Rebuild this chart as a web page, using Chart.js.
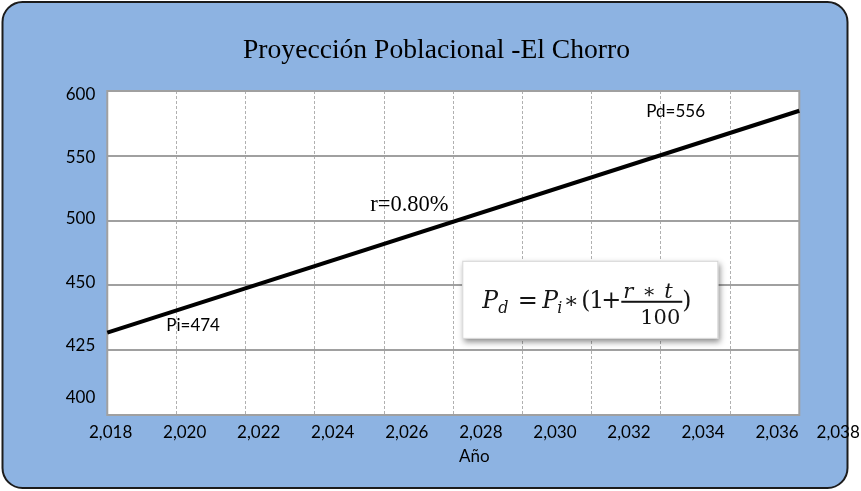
<!DOCTYPE html>
<html>
<head>
<meta charset="utf-8">
<title>Proyección Poblacional -El Chorro</title>
<script src="https://cdn.jsdelivr.net/npm/chart.js@4/dist/chart.umd.min.js"></script>
<style>
  html, body { margin: 0; padding: 0; background: #ffffff; }
  #wrap { width: 861px; height: 491px; }
</style>
</head>
<body>
<div id="wrap"><canvas id="c" width="861" height="491"></canvas></div>
<script>
// ---- data ----
const years = [2018, 2038];
const population = [474, 556];
const xTickYears = [2018, 2020, 2022, 2024, 2026, 2028, 2030, 2032, 2034, 2036, 2038];
const yTickLabels = ['400', '425', '450', '500', '550', '600'];
const growthRate = 0.80;
const chartTitle = 'Proyección Poblacional -El Chorro';
const xAxisTitle = 'Año';

const SANS = 'Lato';
const SERIF = '"Liberation Serif", "Times New Roman", serif';
const MATH = '"DejaVu Serif", serif';

// vertical range of the plot and the small shifts (px, up) of each y label off its grid line
const Y_MIN = 443.6, Y_MAX = 563.3, PLOT_H = 324;
const yLabelShift = [17, 5, 3, 2, -2, -4];

function withThousands(n) {
  return String(n).replace(/\B(?=(\d{3})+(?!\d))/g, ',');
}
function gridValue(i) {
  return Y_MIN + i * (Y_MAX - Y_MIN) / (yTickLabels.length - 1);
}

// rounded blue panel, white plot area and the heading
const panel = {
  id: 'panel',
  beforeDraw(chart) {
    const { ctx, chartArea: a } = chart;
    ctx.save();
    ctx.fillStyle = '#ffffff';
    ctx.fillRect(0, 0, chart.width, chart.height);
    ctx.beginPath();
    ctx.roundRect(2.5, 2, 845, 486, 20);
    ctx.fillStyle = '#8DB3E2';
    ctx.fill();
    ctx.lineWidth = 2;
    ctx.strokeStyle = '#1c1c1c';
    ctx.stroke();
    ctx.fillStyle = '#ffffff';
    ctx.fillRect(a.left, a.top, a.right - a.left, a.bottom - a.top);
    ctx.fillStyle = '#000';
    ctx.font = `27.6px ${SERIF}`;
    ctx.textAlign = 'center';
    ctx.textBaseline = 'alphabetic';
    ctx.fillText(chartTitle, chart.width / 2 + 6, a.top - 33);
    ctx.restore();
  }
};

// grey frame round the plot area
const frame = {
  id: 'frame',
  beforeDatasetsDraw(chart) {
    const { ctx, chartArea: a } = chart;
    ctx.save();
    ctx.strokeStyle = '#a0a0a0';
    ctx.lineWidth = 2;
    ctx.strokeRect(a.left, a.top, a.right - a.left, a.bottom - a.top);
    ctx.restore();
  }
};

// text notes, formula box and x axis title
const notes = {
  id: 'notes',
  afterDatasetsDraw(chart) {
    const { ctx, chartArea: a, scales } = chart;
    const x = scales.x, y = scales.y, xl = scales.xl;
    const p0 = { x: x.getPixelForValue(years[0]), y: y.getPixelForValue(population[0]) };
    const p1 = { x: x.getPixelForValue(years[1]), y: y.getPixelForValue(population[1]) };
    const mid = { x: (p0.x + p1.x) / 2, y: (p0.y + p1.y) / 2 };

    ctx.save();
    ctx.fillStyle = '#000';
    ctx.textAlign = 'left';
    ctx.textBaseline = 'alphabetic';

    ctx.font = `17px ${SANS}`;
    ctx.fillText(`Pi=${population[0]}`, p0.x + 59, p0.y - 2);
    ctx.fillText(`Pd=${population[1]}`, p1.x - 153, p1.y + 6.5);

    ctx.font = `22.5px ${SERIF}`;
    ctx.fillText(`r=${growthRate.toFixed(2)}%`, mid.x - 83, mid.y - 11);

    // formula box
    const w = a.right - a.left, h = a.bottom - a.top;
    const bx = a.left + 0.513 * w, by = a.top + 0.524 * h;
    const bw = 0.370 * w, bh = 0.241 * h;
    ctx.save();
    ctx.shadowColor = 'rgba(0,0,0,0.45)';
    ctx.shadowBlur = 6;
    ctx.shadowOffsetX = 2;
    ctx.shadowOffsetY = 3;
    ctx.fillStyle = '#ffffff';
    ctx.fillRect(bx, by, bw, bh);
    ctx.restore();
    ctx.strokeStyle = '#d4d4d4';
    ctx.lineWidth = 1;
    ctx.strokeRect(bx + 0.5, by + 0.5, bw - 1, bh - 1);

    const it = (sz) => `italic ${sz}px ${MATH}`;
    const up = (sz) => `${sz}px ${MATH}`;
    const base = by + 47;
    ctx.fillStyle = '#141414';
    const glyph = (txt, font, dx, dy = 0, align = 'left') => {
      ctx.font = font;
      ctx.textAlign = align;
      ctx.fillText(txt, bx + dx, base + dy);
    };
    glyph('P', it(23.5), 20);
    glyph('d', it(16), 36, 5);
    glyph('=', up(24), 65.5, 0, 'center');
    glyph('P', it(23.5), 80);
    glyph('i', it(16), 95, 5);
    glyph('\u2217', up(22), 109, 0, 'center');
    glyph('(', up(23.5), 119);
    glyph('1', up(23.5), 127);
    glyph('+', up(24), 149, 0, 'center');
    // fraction r*t / 100
    ctx.fillRect(bx + 159, by + 40, 61, 2);
    glyph('r', it(21), 161, -10);
    glyph('\u2217', up(20), 187, -10, 'center');
    glyph('t', it(21), 202, -10);
    glyph('100', up(21), 198, 16, 'center');
    glyph(')', up(23.5), 220);

    // x axis title, centred under the year labels
    const first = xl.getPixelForTick(0);
    const last = xl.getPixelForTick(xl.ticks.length - 1);
    ctx.fillStyle = '#000';
    ctx.font = `17px ${SANS}`;
    ctx.textAlign = 'center';
    ctx.fillText(xAxisTitle, (first + last) / 2, a.bottom + 46.5);
    ctx.restore();
  }
};

Chart.defaults.font.family = SANS;

new Chart(document.getElementById('c'), {
  type: 'line',
  data: {
    datasets: [{
      label: 'Población',
      data: years.map((yr, i) => ({ x: yr, y: population[i] })),
      borderColor: '#000000',
      borderWidth: 4,
      pointRadius: 0,
      fill: false,
      tension: 0,
      xAxisID: 'x',
      yAxisID: 'y',
      clip: 4
    }]
  },
  options: {
    responsive: false,
    animation: false,
    devicePixelRatio: 1,
    layout: { padding: { top: 91, left: 53.7, right: 61.7, bottom: 41.6 } },
    plugins: {
      legend: { display: false },
      tooltip: { enabled: false },
      title: { display: false }
    },
    scales: {
      x: {
        type: 'linear',
        position: 'bottom',
        min: 2018,
        max: 2038,
        ticks: { display: false, stepSize: 2 },
        grid: { color: '#b0b0b0', lineWidth: 1, drawTicks: false },
        border: { display: false, dash: [3, 2] }
      },
      xl: {
        type: 'linear',
        position: 'bottom',
        min: 2017.91,
        max: 2036.6,
        grid: { display: false, drawTicks: false },
        border: { display: false },
        afterBuildTicks(scale) {
          const n = xTickYears.length;
          scale.ticks = xTickYears.map((v, i) => ({ value: i === n - 1 ? scale.max + 1.05 : v }));
        },
        afterFit(scale) {
          scale.paddingLeft = 0;
          scale.paddingRight = 0;
        },
        ticks: {
          autoSkip: false,
          maxRotation: 0,
          padding: 7,
          color: '#000',
          font: { family: SANS, size: 17 },
          callback: (v, i) => withThousands(xTickYears[i])
        }
      },
      y: {
        type: 'linear',
        position: 'left',
        min: Y_MIN,
        max: Y_MAX,
        afterBuildTicks(scale) {
          scale.ticks = yTickLabels.map((_, i) => ({ value: gridValue(i) }));
        },
        grid: { color: '#a0a0a0', lineWidth: 2, drawTicks: false },
        border: { display: false },
        ticks: { display: false }
      },
      yl: {
        type: 'linear',
        position: 'left',
        min: Y_MIN,
        max: Y_MAX,
        afterBuildTicks(scale) {
          const perPx = (Y_MAX - Y_MIN) / PLOT_H;
          scale.ticks = yTickLabels.map((_, i) => ({ value: gridValue(i) + yLabelShift[i] * perPx }));
        },
        afterFit(scale) {
          scale.paddingTop = 0;
          scale.paddingBottom = 0;
        },
        grid: { display: false, drawTicks: false },
        border: { display: false },
        ticks: {
          padding: 12,
          color: '#000',
          font: { family: SANS, size: 17 },
          callback: (v, i) => yTickLabels[i]
        }
      }
    }
  },
  plugins: [panel, frame, notes]
});
</script>
</body>
</html>
